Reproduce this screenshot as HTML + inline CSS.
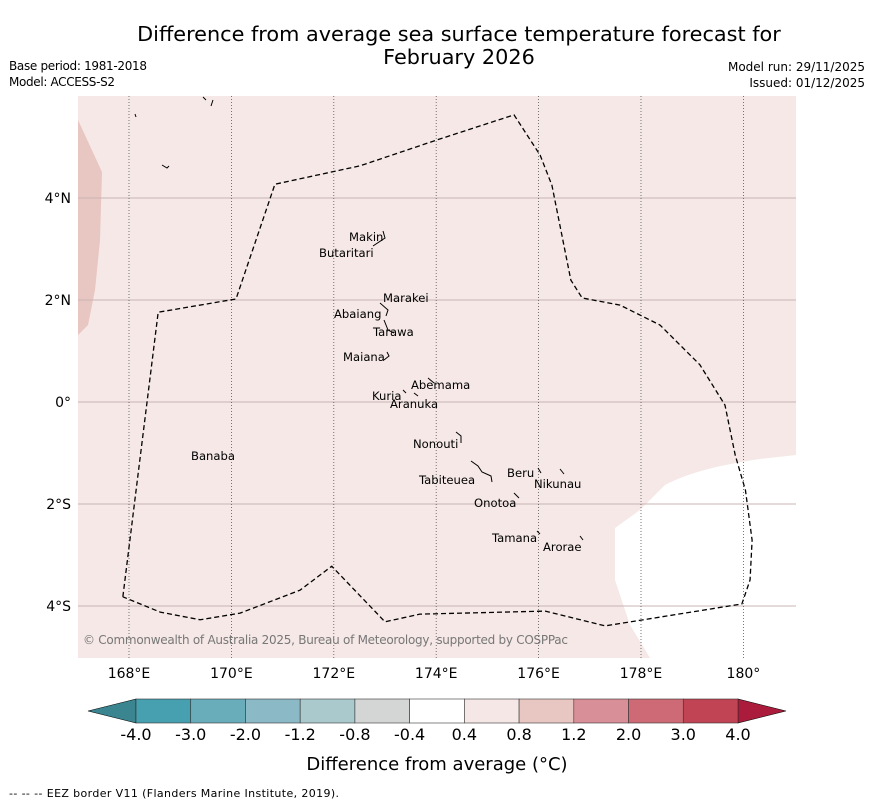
<!DOCTYPE html>
<html><head><meta charset="utf-8"><style>
body{margin:0;background:#fff;}
svg text{font-family:"DejaVu Sans","Liberation Sans",sans-serif;}
</style></head><body>
<svg id="svg" width="873" height="804" xmlns="http://www.w3.org/2000/svg">
<text x="459" y="41" font-size="20.8" text-anchor="middle">Difference from average sea surface temperature forecast for</text>
<text x="459" y="64" font-size="20.8" text-anchor="middle">February 2026</text>
<text x="9" y="70" font-size="12" textLength="138">Base period: 1981-2018</text>
<text x="9" y="86" font-size="12" textLength="106">Model: ACCESS-S2</text>
<text x="865" y="71" font-size="12" text-anchor="end">Model run: 29/11/2025</text>
<text x="865" y="87" font-size="12" text-anchor="end">Issued: 01/12/2025</text>
<g id="map"></g>
<g id="cbar"></g>
<text x="437" y="770" font-size="18" text-anchor="middle">Difference from average (°C)</text>
<text x="9" y="797" font-size="11" textLength="330">--  --  -- EEZ border V11 (Flanders Marine Institute, 2019).</text>
</svg>
<script>
const lonTicks=[168,170,172,174,176,178,180];
const lonLabels=["168°E","170°E","172°E","174°E","176°E","178°E","180°"];
const latTicks=[4,2,0,-2,-4];
const latLabels=["4°N","2°N","0°","2°S","4°S"];
const eezLon=[167.88,168.57,170.09,170.85,172.51,174.02,175.52,176.03,176.26,176.63,176.85,177.59,178.37,179.15,179.64,179.84,180.04,180.17,180.13,179.97,177.30,176.13,173.68,173.0,171.96,171.34,170.17,169.39,168.61,167.88];
const eezLat=[-3.82,1.76,2.02,4.27,4.63,5.14,5.63,4.84,4.25,2.39,2.04,1.90,1.51,0.73,-0.06,-1.04,-1.73,-2.71,-3.49,-3.96,-4.39,-4.10,-4.16,-4.31,-3.22,-3.69,-4.14,-4.27,-4.12,-3.82];
const cbBounds=["-4.0","-3.0","-2.0","-1.2","-0.8","-0.4","0.4","0.8","1.2","2.0","3.0","4.0"];
const cbColors=["#47a0b0","#69adbb","#8bb9c5","#aac9cd","#d4d6d5","#ffffff","#f5e7e6","#e8c6c1","#d98f97","#cd6a75","#c14455"];
const ns="http://www.w3.org/2000/svg";
const X0=78,X1=796,Y0=96,Y1=658;
const xs=l=>129+(l-168)*51.2;
const ys=l=>402-l*51;
function mk(p,t,a){const e=document.createElementNS(ns,t);for(const k in a)e.setAttribute(k,a[k]);p.appendChild(e);return e;}
const map=document.getElementById('map');
let r=mk(map,'rect',{x:X0,y:Y0,width:X1-X0,height:Y1-Y0,fill:'#f5e8e6'});


let p=mk(map,'polygon',{points:'78,120 102,172 100,240 95,290 88,325 78,335',fill:'#e8c6c1'});


p=mk(map,'path',{d:'M796,455 L760,459 C720,465 690,472 665,485 L640,510 L615,528 L615,580 L630,625 L650,658 L796,658 Z',fill:'#ffffff'});


latTicks.forEach((v,i)=>{const y=ys(v);
 let l=mk(map,'line',{x1:X0,x2:X1,y1:y,y2:y,stroke:'#c8b4b4','stroke-width':1});
 
 
 let t=mk(map,'text',{x:71,y:y+5,'font-size':14,'text-anchor':'end'});t.textContent=latLabels[i];
 
 });
lonTicks.forEach((v,i)=>{const x=xs(v);
 let l=mk(map,'line',{x1:x,x2:x,y1:Y0,y2:Y1,stroke:'#555','stroke-width':0.8,'stroke-dasharray':'1,2'});
 
 
 let t=mk(map,'text',{x:x,y:678,'font-size':14,'text-anchor':'middle'});t.textContent=lonLabels[i];
 
 });
const pts=eezLon.map((l,i)=>xs(l)+','+ys(eezLat[i])).join(' ');
p=mk(map,'polyline',{points:pts,fill:'none',stroke:'#000','stroke-width':1.3,'stroke-dasharray':'5,3'});


const isl=[["Makin",349,241],["Butaritari",319,257],["Marakei",383,302],["Abaiang",334,318],["Tarawa",373,336],["Maiana",343,361],["Abemama",411,389],["Kuria",372,400],["Aranuka",390,408],["Nonouti",413,448],["Tabiteuea",419,484],["Beru",507,477],["Nikunau",534,488],["Onotoa",474,507],["Tamana",492,542],["Arorae",543,551],["Banaba",191,460]];
isl.forEach(a=>{let t=mk(map,'text',{x:a[1],y:a[2],'font-size':11.6});t.textContent=a[0];
 
 });
const marks=["M383,231 L385,238 L373,246","M380,303 L388,310 L386,316","M384,320 L388,330 L394,333","M387,352 L389,356 L384,360","M428,378 L434,383","M456,432 L461,436 L461,443","M471,461 L478,466 L482,472 L491,476 L492,482","M538,468 L541,473","M560,469 L564,474","M514,493 L519,498","M537,531 L540,534","M580,536 L583,540","M403,390 L406,393","M414,393 L418,396","M135,114 L136,117","M162,165 L167,168 L169,166","M203,97 L206,100","M213,100 L211,106"];
marks.forEach(d=>{let m=mk(map,'path',{d:d,fill:'none',stroke:'#000','stroke-width':1});
 
 });
let c=mk(map,'text',{x:83,y:644,'font-size':12,fill:'#777',textLength:485});c.textContent="© Commonwealth of Australia 2025, Bureau of Meteorology, supported by COSPPac";


const cb=document.getElementById('cbar');
const CX0=136,CX1=738,CY0=699,CY1=723,n=cbColors.length,w=(CX1-CX0)/n;
let tl=mk(cb,'polygon',{points:`${CX0},${CY0} ${CX0},${CY1} 88,711`,fill:'#3b8590',stroke:'#000','stroke-width':0.6});


let tr=mk(cb,'polygon',{points:`${CX1},${CY0} ${CX1},${CY1} 786,711`,fill:'#ab1c3c',stroke:'#000','stroke-width':0.6});


cbColors.forEach((col,i)=>{let s=mk(cb,'rect',{x:CX0+i*w,y:CY0,width:w,height:CY1-CY0,fill:col,stroke:'#333','stroke-width':0.6});
 
 });
cbBounds.forEach((b,i)=>{let t=mk(cb,'text',{x:CX0+i*w,y:740,'font-size':16,'text-anchor':'middle'});t.textContent=b;
 
 });
</script>
</body></html>
